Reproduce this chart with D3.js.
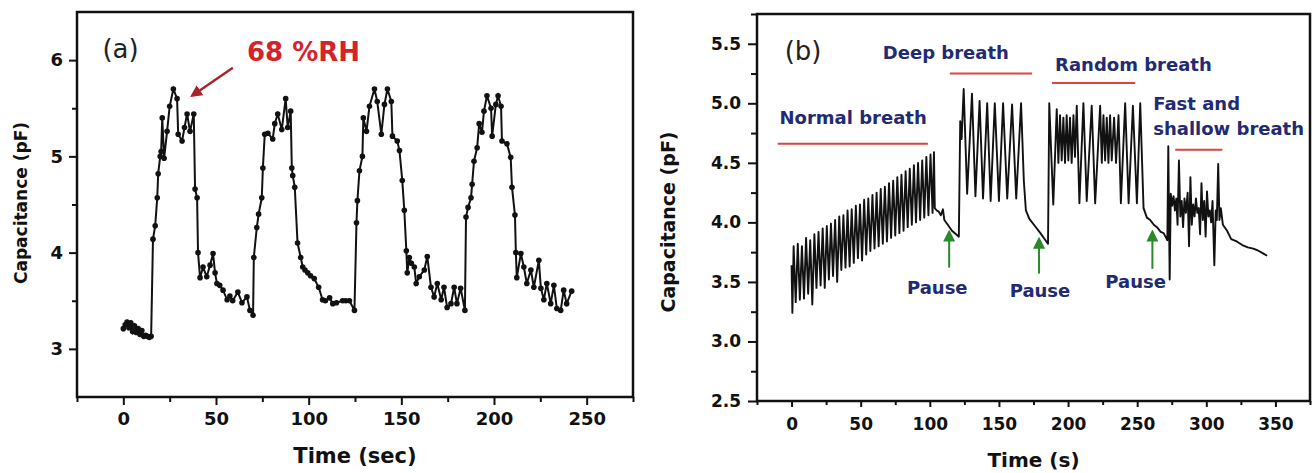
<!DOCTYPE html>
<html lang="en">
<head>
<meta charset="utf-8">
<title>Capacitance response</title>
<script src="https://cdn.jsdelivr.net/npm/d3@7"></script>
<style>
  body { margin: 0; background: #fff; }
  svg { display: block; }
  text { font-family: 'DejaVu Sans', sans-serif; }
</style>
</head>
<body>
<svg width="1315" height="473"></svg>
<script>

// (a) four humidity cycles at 68 %RH, [time (sec), capacitance (pF)]
const humidityCycles = [
  [0,3.21],[1,3.25],[2,3.28],[3,3.22],[4,3.27],[5,3.18],[6,3.24],[7,3.17],[8,3.21],[9,3.15],[10,3.19],[11,3.13],[12,3.14],[13,3.13],[14,3.12],[15,3.13],
  [16,4.14],[17.2,4.28],[18.3,4.57],[18.8,4.82],[19.9,5.0],[20.4,5.05],[21,5.40],[22,4.98],[23.6,5.26],[25,5.52],[27,5.70],[29,5.60],[29.6,5.23],[31.7,5.16],[33,5.30],[34.4,5.44],[36,5.26],[38,5.44],
  [38.7,4.66],[39.8,4.57],[40.3,4.00],[41.4,3.74],[43,3.85],[45,3.75],[46.8,3.87],[48.4,3.99],[49.5,3.79],[50.5,3.68],[52,3.66],[53.8,3.61],[56,3.51],[57.5,3.55],[59,3.50],[61.8,3.59],[64,3.48],[66.7,3.54],[68.3,3.40],[70,3.35],
  [70.4,3.95],[72,4.26],[73,4.40],[74.7,4.57],[75.3,4.88],[76.3,5.23],[78,5.24],[80.6,5.18],[81.7,5.34],[83.3,5.44],[85.5,5.28],[87.6,5.60],[88.7,5.30],[90.3,5.47],
  [90.9,4.88],[91.4,4.80],[92.5,4.68],[94,4.10],[95.7,3.95],[96.8,3.85],[98,3.82],[99.5,3.79],[101,3.76],[103,3.73],[105.4,3.64],[107.5,3.51],[109,3.50],[111.3,3.53],[113,3.47],[115,3.48],[118.3,3.50],[120,3.50],[122,3.50],[124.7,3.40],
  [125.8,4.31],[126.3,4.54],[127.4,4.85],[129,5.0],[129.5,5.40],[131.2,5.26],[132.8,5.52],[135.5,5.70],[137,5.57],[139.2,5.23],[140.9,5.54],[142.5,5.70],[144.6,5.57],[145.2,5.21],[147.8,5.16],
  [149,5.06],[150.5,4.75],[151.6,4.44],[152.7,4.02],[153.2,3.79],[154.3,3.95],[155.4,3.89],[157,3.85],[158,3.68],[159.7,3.75],[162.4,3.82],[164,3.96],[166,3.64],[167.7,3.54],[169.4,3.68],[171.5,3.51],[173,3.64],[174.7,3.43],[176.8,3.47],[178.5,3.64],[180,3.47],[182,3.63],[184.3,3.40],
  [184.9,4.37],[186,4.47],[187.6,4.57],[188.2,4.71],[189.2,4.95],[190.9,5.09],[192,5.34],[193.5,5.25],[194.6,5.47],[196.2,5.63],[198.4,5.50],[199,5.21],[201,5.54],[202.2,5.63],[203.8,5.52],[204.3,5.16],[207,5.13],
  [209,4.99],[209.7,4.68],[211.3,4.39],[211.8,4.00],[212.3,3.74],[214.5,3.99],[216.1,3.85],[217.7,3.68],[219.9,3.82],[221.5,3.64],[224.2,3.92],[225.3,3.63],[226.9,3.51],[228.5,3.68],[230.6,3.47],[232.3,3.66],[233.9,3.42],[236,3.40],[237.6,3.61],[239.2,3.47],[241.9,3.60]
];
const xTicksA = [0, 50, 100, 150, 200, 250];
const yTicksA = [3, 4, 5, 6];

// (b) breathing patterns, [time (s), capacitance (pF)]
const normalBreath = [
  [0,3.64],[0.6,3.24],[1.5,3.80],[3,3.33],[4.5,3.82],[6,3.35],[7.5,3.80],[9,3.36],[10.5,3.87],[12,3.40],[13.5,3.85],[15,3.31],[16.5,3.90],[18,3.45],[19.5,3.92],[21,3.47],
  [22.5,3.95],[24,3.45],[25.5,3.97],[27,3.52],[28.5,3.99],[30,3.55],[31.5,4.02],[33,3.50],[34.5,4.05],[36,3.60],[37.5,4.06],[39,3.62],[40.5,4.10],[42,3.63],[43.5,4.11],[45,3.66],
  [46.5,4.14],[48,3.70],[49.5,4.15],[51,3.68],[52.5,4.19],[54,3.73],[55.5,4.20],[57,3.76],[58.5,4.23],[60,3.78],[61.5,4.25],[63,3.80],[64.5,4.28],[66,3.82],[67.5,4.30],[69,3.84],
  [70.5,4.33],[72,3.87],[73.5,4.35],[75,3.89],[76.5,4.38],[78,3.91],[79.5,4.40],[81,3.93],[82.5,4.43],[84,3.96],[85.5,4.45],[87,3.98],[88.5,4.48],[90,4.00],[91.5,4.50],[93,4.02],
  [94.5,4.52],[96,4.04],[97.5,4.55],[99,4.06],[100.5,4.57],[102,4.08],[103,4.59],
  [103.6,4.12],[105,4.10],[106.5,4.09],[108,4.06],[109.5,4.11],[110.5,4.02],[113,3.98],[116,3.93],[119,3.90],[121,3.88]
];
const deepBreath = [
  [122,4.85],[123,4.70],[124.5,5.12],[127,4.24],[130.5,5.08],[133,4.22],[136,5.02],[138.5,4.20],[141.5,5.00],[144,4.18],[147,5.00],[150,4.18],
  [153,5.00],[156,4.20],[159.5,4.99],[162.5,4.20],[166,5.00],[168,4.35],[169.5,4.10],[172,4.03],[176,3.97],[180,3.91],[183,3.86],[185.5,3.82]
];
const randomBreath = [
  [186.4,5.00],[189.3,4.15],[191.8,4.95],[193,4.50],[194.2,4.90],[195.4,4.52],[196.6,4.88],[197.8,4.50],[199,4.90],[200.2,4.52],[201.4,4.88],[202.6,4.50],[203.9,4.90],[205,4.55],
  [206.3,4.98],[208.2,4.16],[211.1,5.00],[213.5,4.18],[217.1,4.98],[219.6,4.16],[223.2,4.98],[224.4,4.50],[225.6,4.90],[226.8,4.52],[228,4.88],[229.2,4.50],[230.4,4.90],[231.6,4.52],
  [233.3,4.88],[234.7,4.50],[236.5,4.90],[238.2,4.16],[241.3,5.00],[243.8,4.16],[246.9,4.98],[249.8,4.16],[252.2,5.00],[254.6,4.12],[257,4.04],[259.4,4.02],[262,3.98],[264.3,3.96],[267,3.92],[269.1,3.91]
];
const fastBreath = [
  [270.5,3.88],[271.8,3.85],[272.5,4.64],[273.5,3.52],[274.3,4.24],[275.3,4.14],[276.3,4.22],[277.3,4.10],[278.3,4.20],[279.2,3.98],[280.2,4.52],[281.2,4.05],[282.2,4.18],[283.2,3.96],
  [284.2,4.20],[285.2,4.08],[286.5,4.25],[287.5,3.80],[288.5,4.38],[289.5,3.98],[290.5,4.15],[291.5,4.05],[292.5,4.20],[293.5,4.08],[294.5,4.12],[295.5,3.90],[296.5,4.33],[297.5,4.02],
  [298.5,4.18],[299.5,3.88],[300.5,4.26],[301.5,4.05],[302.5,4.10],[303.5,4.00],[304.5,4.18],[305.8,3.64],[306.8,4.10],[307.6,4.02],[308.6,4.49],[309.5,4.02],[310.5,4.12],[312,3.98],
  [315,3.93],[318,3.86],[322,3.84],[326,3.81],[330,3.79],[334,3.78],[338,3.76],[341,3.74],[344,3.72]
];
const xTicksB = [0, 50, 100, 150, 200, 250, 300, 350];
const yTicksB = [2.5, 3.0, 3.5, 4.0, 4.5, 5.0, 5.5];

// labelled phases in (b): text, anchor point and underline span (data units)
const phaseLabels = ['Normal breath', 'Deep breath', 'Random breath'];
const phaseTextAt = [[-8.7, 4.83], [66, 5.37], [190.6, 5.27]];
const phaseLines = [[-10, 98.6, 4.66], [114.5, 174, 5.25], [188.4, 248.6, 5.17], [277.5, 311.6, 4.61]];
const pauseAt = [114, 179, 261];           // arrow time
const pauseText = [[105.4, 3.40], [179.7, 3.37], [248.9, 3.45]];
const pauseArrow = [[3.62, 3.92], [3.57, 3.86], [3.61, 3.92]];

const svg = d3.select('svg');
const navy = '#222a72';

// arrow heads
const defs = svg.append('defs');
[['head-red', '#a8232b', 5], ['head-green', '#2a8a2a', 6]].forEach(([id, c, s]) => {
    defs.append('marker')
        .attr('id', id)
        .attr('viewBox', '0 0 10 10')
        .attr('refX', 8).attr('refY', 5)
        .attr('markerWidth', s).attr('markerHeight', s)
        .attr('orient', 'auto')
        .append('path')
        .attr('d', 'M0,0 L10,5 L0,10 Z')
        .attr('fill', c);
});

function drawFrame(opt) {
    let x = d3.scaleLinear().domain(opt.xDomain).range([opt.left, opt.right]);
    let y = d3.scaleLinear().domain(opt.yDomain).range([opt.bottom, opt.top]);
    let g = svg.append('g');

    // minor ticks
    g.append('g')
        .attr('transform', `translate(0,${opt.bottom})`)
        .call(d3.axisBottom(x).tickValues(opt.xMinor).tickSize(opt.xMinorLen).tickFormat(''))
        .call(a => a.select('.domain').remove());
    g.append('g')
        .attr('transform', `translate(${opt.left},0)`)
        .call(d3.axisLeft(y).tickValues(opt.yMinor).tickSize(opt.yMinorLen).tickFormat(''))
        .call(a => a.select('.domain').remove());

    // major ticks with labels
    let xa = g.append('g')
        .attr('transform', `translate(0,${opt.bottom})`)
        .call(d3.axisBottom(x).tickValues(opt.xTicks).tickSize(opt.xMajorLen).tickPadding(opt.xPad).tickFormat(d3.format('d')));
    let ya = g.append('g')
        .attr('transform', `translate(${opt.left},0)`)
        .call(d3.axisLeft(y).tickValues(opt.yTicks).tickSize(opt.yMajorLen).tickPadding(opt.yPad).tickFormat(opt.yFormat));
    [xa, ya].forEach(a => {
        a.select('.domain').remove();
        a.selectAll('.tick text')
            .attr('fill', '#111')
            .style('font-family', 'DejaVu Sans')
            .style('font-weight', 'bold')
            .style('font-size', opt.tickFont);
    });
    g.selectAll('.tick line').attr('stroke', '#111').attr('stroke-width', 2);

    // frame
    g.append('rect')
        .attr('x', opt.left).attr('y', opt.top)
        .attr('width', opt.right - opt.left).attr('height', opt.bottom - opt.top)
        .attr('fill', 'none').attr('stroke', '#111').attr('stroke-width', 2.5);

    // axis titles
    g.append('text')
        .attr('x', (opt.left + opt.right) / 2).attr('y', opt.xTitleY)
        .attr('text-anchor', 'middle')
        .style('font-weight', 'bold').style('font-size', opt.xTitleFont)
        .attr('fill', '#111')
        .text(opt.xTitle);
    g.append('text')
        .attr('transform', `translate(${opt.yTitleX},${opt.yTitleMid})rotate(-90)`)
        .attr('text-anchor', 'middle')
        .style('font-weight', 'bold').style('font-size', opt.yTitleFont)
        .attr('fill', '#111')
        .text(opt.yTitle);

    return { x, y, g };
}

// ---------- panel (a) ----------
const A = drawFrame({
    left: 77, right: 633, top: 12, bottom: 397,
    xDomain: [-25, 275], yDomain: [2.5, 6.5],
    xTicks: xTicksA, yTicks: yTicksA,
    xMinor: d3.range(-25, 276, 50), yMinor: [3.5, 4.5, 5.5],
    xMajorLen: 8, xMinorLen: 5, yMajorLen: 8, yMinorLen: 5,
    xPad: 7, yPad: 6, yFormat: d3.format('d'),
    tickFont: '18px',
    xTitle: 'Time (sec)', xTitleY: 463, xTitleFont: '21px',
    yTitle: 'Capacitance (pF)', yTitleX: 27, yTitleMid: 203, yTitleFont: '17px'
});

A.g.append('path')
    .datum(humidityCycles)
    .attr('d', d3.line().x(d => A.x(d[0])).y(d => A.y(d[1])))
    .attr('fill', 'none').attr('stroke', '#111').attr('stroke-width', 2);

A.g.append('g')
    .selectAll('circle')
    .data(humidityCycles)
    .enter()
    .append('circle')
    .attr('cx', d => A.x(d[0]))
    .attr('cy', d => A.y(d[1]))
    .attr('r', 2.8)
    .attr('fill', '#111');

A.g.append('text')
    .attr('x', A.x(-11.3)).attr('y', A.y(6.02))
    .style('font-size', '26px').attr('fill', '#222')
    .text('(a)');
A.g.append('text')
    .attr('x', A.x(66.7)).attr('y', A.y(5.99))
    .style('font-size', '26px').style('font-weight', 'bold').attr('fill', '#d4232b')
    .text('68 %RH');
A.g.append('line')
    .attr('x1', A.x(59.1)).attr('y1', A.y(5.92))
    .attr('x2', A.x(37.1)).attr('y2', A.y(5.63))
    .attr('stroke', '#a8232b').attr('stroke-width', 2.4)
    .attr('marker-end', 'url(#head-red)');

// ---------- panel (b) ----------
const B = drawFrame({
    left: 757, right: 1310, top: 14, bottom: 401,
    xDomain: [-25, 375], yDomain: [2.5, 5.75],
    xTicks: xTicksB, yTicks: yTicksB,
    xMinor: d3.range(-25, 376, 50), yMinor: [2.75, 3.25, 3.75, 4.25, 4.75, 5.25, 5.75],
    xMajorLen: 6, xMinorLen: 4, yMajorLen: 9, yMinorLen: 6,
    xPad: 11, yPad: 7, yFormat: d3.format('.1f'),
    tickFont: '17px',
    xTitle: 'Time (s)', xTitleY: 467, xTitleFont: '20px',
    yTitle: 'Capacitance (pF)', yTitleX: 675, yTitleMid: 222, yTitleFont: '19px'
});

const breath = normalBreath.concat(deepBreath, randomBreath, fastBreath);
B.g.append('path')
    .datum(breath)
    .attr('d', d3.line().x(d => B.x(d[0])).y(d => B.y(d[1])))
    .attr('fill', 'none').attr('stroke', '#111').attr('stroke-width', 1.9)
    .attr('stroke-linejoin', 'round');

B.g.append('text')
    .attr('x', B.x(-5)).attr('y', B.y(5.36))
    .style('font-size', '26px').attr('fill', '#222')
    .text('(b)');

B.g.selectAll('.phase')
    .data(phaseLabels)
    .enter()
    .append('text')
    .attr('x', (d, i) => B.x(phaseTextAt[i][0]))
    .attr('y', (d, i) => B.y(phaseTextAt[i][1]))
    .style('font-size', '18px').style('font-weight', 'bold').attr('fill', navy)
    .text(d => d);

let fast = B.g.append('text')
    .style('font-size', '18px').style('font-weight', 'bold').attr('fill', navy);
fast.append('tspan').attr('x', B.x(261.6)).attr('y', B.y(4.94)).text('Fast and');
fast.append('tspan').attr('x', B.x(261.6)).attr('y', B.y(4.73)).text('shallow breath');

B.g.selectAll('.phase-line')
    .data(phaseLines)
    .enter()
    .append('line')
    .attr('x1', d => B.x(d[0])).attr('x2', d => B.x(d[1]))
    .attr('y1', d => B.y(d[2])).attr('y2', d => B.y(d[2]))
    .attr('stroke', '#d9463f').attr('stroke-width', 2);

pauseAt.forEach((t, i) => {
    B.g.append('line')
        .attr('x1', B.x(t)).attr('x2', B.x(t))
        .attr('y1', B.y(pauseArrow[i][0])).attr('y2', B.y(pauseArrow[i][1]))
        .attr('stroke', '#2a8a2a').attr('stroke-width', 2)
        .attr('marker-end', 'url(#head-green)');
    B.g.append('text')
        .attr('x', B.x(pauseText[i][0])).attr('y', B.y(pauseText[i][1]))
        .attr('text-anchor', 'middle')
        .style('font-size', '18px').style('font-weight', 'bold').attr('fill', navy)
        .text('Pause');
});

</script>
</body>
</html>
